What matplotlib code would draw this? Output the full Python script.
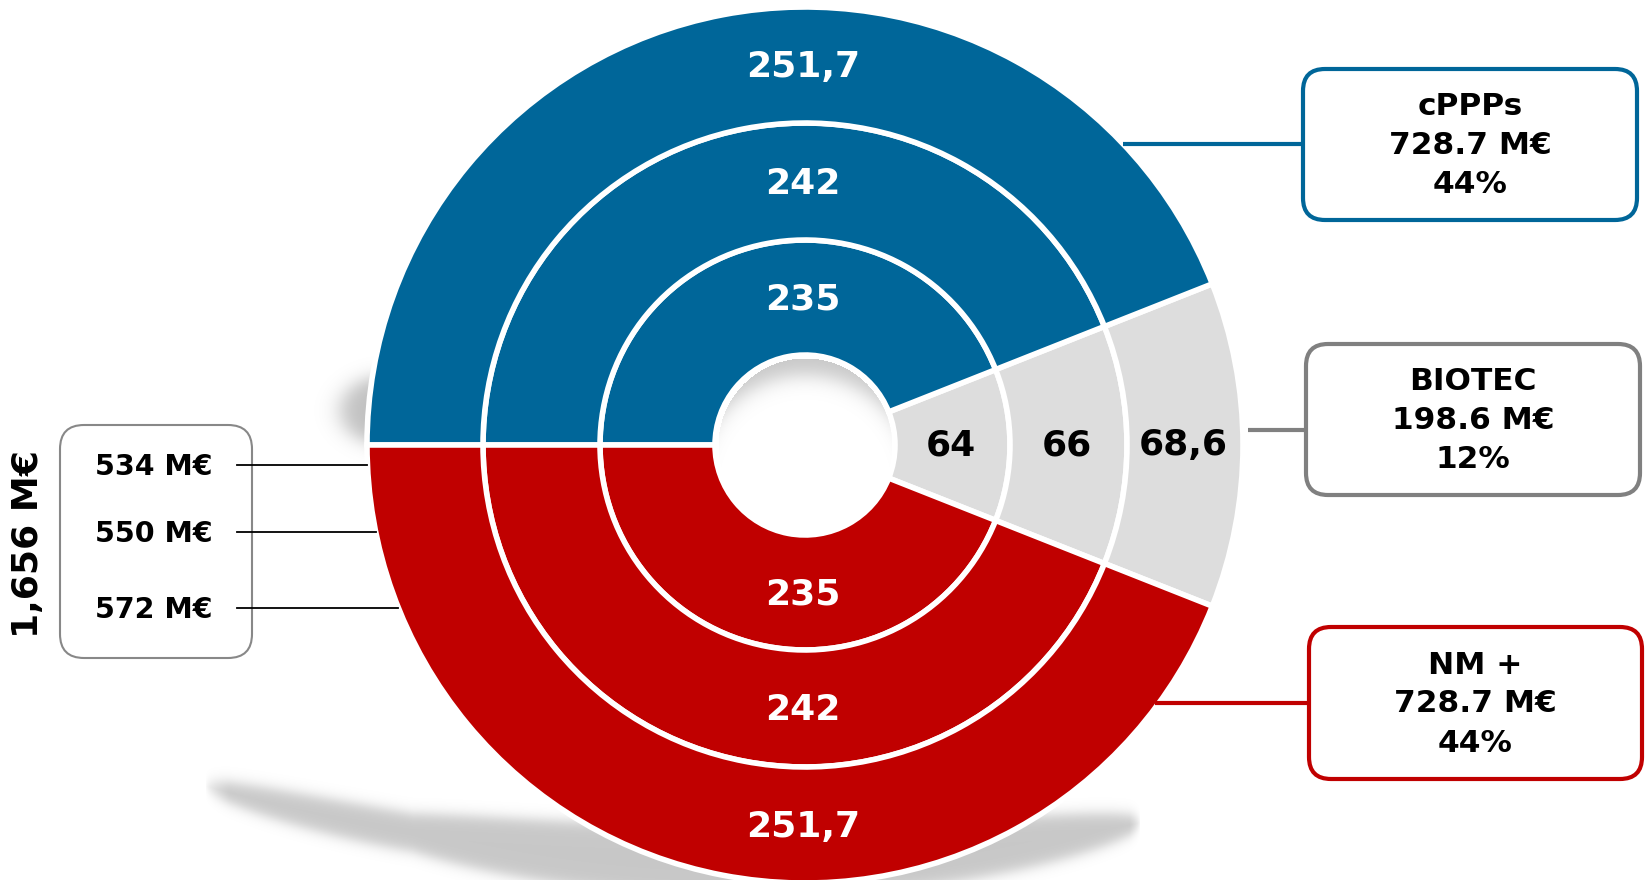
import numpy as np
import matplotlib
matplotlib.use("Agg")
import matplotlib.pyplot as plt
from matplotlib.patches import FancyBboxPatch

# ring values, inner -> outer (cPPPs, BIOTEC, NM +)
ring_totals = [534, 550, 572]
cppps = [235, 242, 251.7]
biotec = [64, 66, 68.6]
nm_plus = [235, 242, 251.7]

groups = ["cPPPs", "BIOTEC", "NM +"]
group_totals = [728.7, 198.6, 728.7]
group_shares = [44, 12, 44]
grand_total = "1,656 M€"

BLUE = "#006699"
GREY = "#DDDDDD"
RED = "#C00000"

W, H = 1645, 880
cx, cy_img = 805, 445
hole_r = 90
radii = [205, 322, 438]


def fy(y):
    # image y (down) -> axes y (up)
    return H - y


def fmt(v):
    return f"{v:g}".replace(".", ",")


fig = plt.figure(figsize=(W / 100, H / 100), dpi=100)
ax = fig.add_axes([0, 0, 1, 1])

# soft shadows behind the chart
yy, xx = np.mgrid[0:H, 0:W].astype(float)


def sig(d, s):
    return 1 / (1 + np.exp(np.clip(d / s, -50, 50)))


def soft_ellipse(x0, y0, a, b, s):
    q = np.sqrt(((xx - x0) / a) ** 2 + ((yy - y0) / b) ** 2)
    return sig(q - 1, s)


# curved shadow under the disk
yc = 861 - 2.54e-4 * (xx - 750) ** 2
t1 = 34 * np.sqrt(np.clip(1 - ((xx - 750) / 390) ** 2, 0, 1))
t2 = 17 * np.sqrt(np.clip(1 - ((xx - 405) / 200) ** 2, 0, 1))
thick = np.maximum(t1, t2)
alpha = 0.22 * sig(np.abs(yy - yc) - thick - 2, 4) * np.clip(thick / 8, 0, 1)
# small shadow on the left edge
alpha = np.maximum(alpha, 0.25 * soft_ellipse(385, 410, 44, 34, 0.15))
# shading inside the hole, top side
rr = np.hypot(xx - cx, yy - cy_img)
hole_sh = 1 - sig(np.hypot(xx - cx, yy - cy_img - 40) - 110, 6)
alpha = np.maximum(alpha, 0.22 * hole_sh * (rr < hole_r - 3))
img = np.zeros((H, W, 4))
img[..., 3] = alpha
ax.imshow(img, extent=(0, W, 0, H), origin="upper", zorder=0, interpolation="bilinear")

# concentric rings
inner_r = [hole_r] + radii[:-1]
for i in range(3):
    vals = [biotec[i], cppps[i], nm_plus[i]]
    start = -0.5 * biotec[i] / ring_totals[i] * 360
    ax.pie(vals, radius=radii[i], center=(cx, fy(cy_img)), startangle=start,
           counterclock=True, colors=[GREY, BLUE, RED],
           wedgeprops=dict(width=radii[i] - inner_r[i], edgecolor="white", linewidth=4))
    rm = (radii[i] + inner_r[i]) / 2
    ax.text(cx - 2, fy(cy_img) + rm - 2, fmt(cppps[i]), color="white", fontsize=26,
            fontweight="bold", ha="center", va="center", zorder=5)
    ax.text(cx - 2, fy(cy_img) - rm - 2, fmt(nm_plus[i]), color="white", fontsize=26,
            fontweight="bold", ha="center", va="center", zorder=5)
    ax.text(cx + rm - 2, fy(cy_img), fmt(biotec[i]), color="black", fontsize=26,
            fontweight="bold", ha="center", va="center", zorder=5)

# right-hand boxes
boxes = [(1303, 69, 1637, 220, BLUE, 144, 1123),
         (1306, 344, 1640, 495, "#808080", 430, 1248),
         (1309, 627, 1642, 779, RED, 703, 1155)]
for (x0, y0, x1, y1, col, ly, lx), g, t, s in zip(boxes, groups, group_totals, group_shares):
    ax.add_patch(FancyBboxPatch((x0, fy(y1)), x1 - x0, y1 - y0,
                                boxstyle="round,pad=0,rounding_size=22",
                                facecolor="white", edgecolor=col, linewidth=3, zorder=6))
    ax.plot([lx, x0], [fy(ly), fy(ly)], color=col, linewidth=3, zorder=4,
            solid_capstyle="butt")
    ymid = (y0 + y1) / 2 + 1
    for k, txt in enumerate([g, f"{t} M€", f"{s}%"]):
        ax.text((x0 + x1) / 2, fy(ymid + (k - 1) * 39), txt, fontsize=22.5,
                fontweight="bold", ha="center", va="center", zorder=7)

# left box with ring totals
ax.add_patch(FancyBboxPatch((60, fy(658)), 192, 233,
                            boxstyle="round,pad=0,rounding_size=24",
                            facecolor="white", edgecolor="#888888", linewidth=1.5, zorder=6))
for tot, ly in zip(ring_totals, [465, 532, 608]):
    xend = cx - np.sqrt(radii[-1] ** 2 - (ly - cy_img) ** 2)
    ax.plot([237, xend], [fy(ly), fy(ly)], color="black", linewidth=1.3, zorder=7)
    ax.text(154, fy(ly + 2), f"{tot} M€", fontsize=20.5, fontweight="bold",
            ha="center", va="center", zorder=8)
ax.text(28, fy(544), grand_total, fontsize=26, fontweight="bold", rotation=90,
        ha="center", va="center")

ax.set_xlim(0, W)
ax.set_ylim(0, H)
ax.set_aspect("equal")
ax.axis("off")
fig.savefig("out.png", dpi=100)
